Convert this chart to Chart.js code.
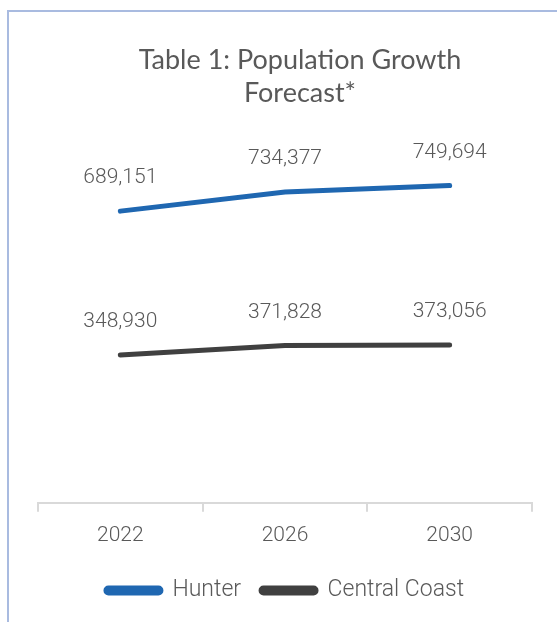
<!DOCTYPE html>
<html>
<head>
<meta charset="utf-8">
<title>Population Growth Forecast</title>
<script src="https://cdn.jsdelivr.net/npm/chart.js@4/dist/chart.umd.min.js"></script>
<style>
  html, body { margin: 0; padding: 0; background: #fff; overflow: hidden; }
  body { width: 557px; height: 622px; position: relative; }
  #frame {
    position: absolute; left: 7px; top: 10px;
    border-left: 2px solid #a9bbe0; border-top: 2px solid #a9bbe0;
    width: 600px; height: 620px;
  }
  #chart { display: block; }
</style>
</head>
<body>
<div id="frame"><canvas id="chart" width="582" height="610"></canvas></div>
<script>
var years = ['2022', '2026', '2030'];
var hunter = [689151, 734377, 749694];
var centralCoast = [348930, 371828, 373056];

var textGrey = '#595959';
var baseFont = 'Roboto, "Open Sans", sans-serif';

// value labels sitting above each point
var pointLabels = {
  id: 'pointLabels',
  afterDatasetsDraw: function(chart) {
    var ctx = chart.ctx;
    ctx.save();
    ctx.font = '300 21px ' + baseFont;
    ctx.fillStyle = textGrey;
    ctx.textAlign = 'center';
    ctx.textBaseline = 'middle';
    chart.data.datasets.forEach(function(ds, i) {
      chart.getDatasetMeta(i).data.forEach(function(pt, j) {
        ctx.fillText(ds.data[j].toLocaleString('en-US'), pt.x, pt.y - 33);
      });
    });
    ctx.restore();
  }
};

var chart = new Chart(document.getElementById('chart').getContext('2d'), {
  type: 'line',
  data: {
    labels: years,
    datasets: [{
      label: 'Hunter',
      data: hunter,
      borderColor: '#1f67b1',
      backgroundColor: '#1f67b1',
      borderWidth: 5,
      borderCapStyle: 'round',
      pointRadius: 0,
      tension: 0
    }, {
      label: 'Central Coast',
      data: centralCoast,
      borderColor: '#404040',
      backgroundColor: '#404040',
      borderWidth: 5,
      borderCapStyle: 'round',
      pointRadius: 0,
      tension: 0
    }]
  },
  options: {
    responsive: false,
    animation: false,
    devicePixelRatio: 1,
    layout: { padding: { top: 0, bottom: 10, left: 0, right: 0 } },
    plugins: {
      title: {
        display: true,
        text: ['Table 1: Population Growth', 'Forecast*'],
        color: textGrey,
        font: { family: 'Lato, ' + baseFont, size: 27, weight: 'normal', lineHeight: 1.22 },
        padding: { top: 32, bottom: 12 }
      },
      legend: {
        position: 'bottom',
        fullSize: false,
        labels: {
          color: textGrey,
          font: { family: baseFont, size: 23, weight: '300' },
          boxWidth: 55,
          boxHeight: 5,
          useBorderRadius: true,
          borderRadius: 2.5,
          padding: 20
        }
      },
      tooltip: { enabled: false }
    },
    scales: {
      x: {
        offset: true,
        grid: { offset: true, drawOnChartArea: false, tickLength: 9, color: '#d9d9d9', lineWidth: 2 },
        border: { color: '#d9d9d9', width: 2 },
        ticks: { color: textGrey, font: { family: baseFont, size: 21, weight: '300' }, padding: 11 }
      },
      y: {
        min: 0,
        max: 900000,
        ticks: { display: false },
        grid: { display: false },
        border: { display: false },
        afterFit: function(scale) { scale.width = 29; }
      },
      yR: {
        position: 'right',
        display: true,
        ticks: { display: false },
        grid: { display: false },
        border: { display: false },
        afterFit: function(scale) { scale.width = 59; }
      }
    }
  },
  plugins: [pointLabels]
});
</script>
</body>
</html>
